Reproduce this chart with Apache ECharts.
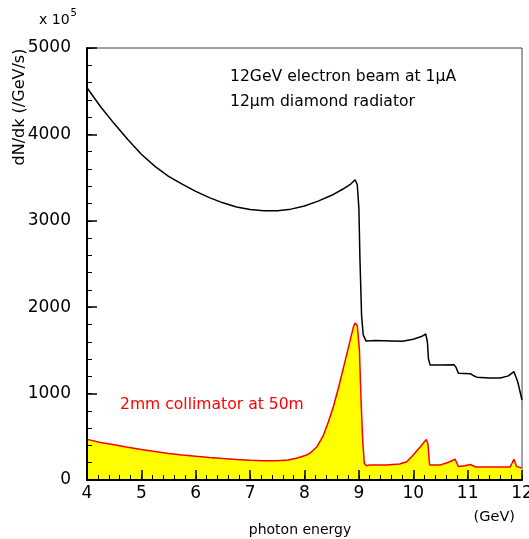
<!DOCTYPE html>
<html>
<head>
<meta charset="utf-8">
<script src="https://cdn.jsdelivr.net/npm/echarts@6/dist/echarts.min.js"></script>
<style>html,body{margin:0;padding:0;background:#fff;}#c{width:529px;height:539px;}</style>
</head>
<body>
<div id="c"></div>
<script>
// total flux (black)
var blackEnergy = [4.0,4.25,4.5,4.75,5.0,5.25,5.5,5.75,6.0,6.25,6.5,6.75,7.0,7.25,7.5,7.75,8.0,8.25,8.5,8.7,8.85,8.93,8.97,9.0,9.02,9.05,9.08,9.13,9.3,9.6,9.8,10.0,10.15,10.23,10.26,10.28,10.31,10.5,10.75,10.79,10.83,11.05,11.1,11.17,11.4,11.6,11.75,11.85,11.92,12.0];
var blackFlux   = [4540,4320,4125,3940,3770,3630,3515,3425,3340,3268,3208,3160,3130,3117,3117,3135,3172,3228,3295,3365,3425,3475,3420,3150,2550,1900,1680,1610,1615,1610,1605,1630,1660,1690,1600,1400,1330,1330,1335,1300,1235,1230,1210,1190,1180,1180,1205,1255,1140,926];
// collimated flux (red / yellow)
var redEnergy = [4.0,4.25,4.5,4.75,5.0,5.25,5.5,5.75,6.0,6.25,6.5,6.75,7.0,7.25,7.5,7.7,7.85,8.0,8.1,8.23,8.35,8.44,8.53,8.63,8.72,8.81,8.9,8.93,8.97,9.01,9.04,9.07,9.1,9.14,9.2,9.5,9.75,9.88,10.0,10.13,10.24,10.27,10.3,10.5,10.65,10.77,10.83,10.95,11.05,11.1,11.15,11.78,11.82,11.85,11.9,12.0];
var redFlux   = [470,435,408,380,354,330,307,290,274,260,248,238,230,224,224,232,252,280,309,385,520,674,847,1079,1310,1541,1772,1818,1792,1503,925,462,193,165,175,175,185,212,290,385,470,420,175,175,205,240,155,165,180,165,150,150,200,240,155,140];
var xTicks = [4,5,6,7,8,9,10,11,12];
var yTicks = [0,1000,2000,3000,4000,5000];

function pairs(xs, ys){ return xs.map(function(x,i){ return [x, ys[i]]; }); }

var FONT = 'DejaVu Sans';
var xMin = xTicks[0], xMax = xTicks[xTicks.length-1];
var yMin = yTicks[0], yMax = yTicks[yTicks.length-1];
var W = 529, H = 539, GL = 87, GR = 7, GT = 48, GB = 59;

// secondary axes used only to draw the minor ticks, placed on the opposite side
// and shifted onto the main axis line so that their outward ticks point into the plot
function minorAxis(min, max, interval, pos, offset){
  return {
    type: 'value', min: min, max: max, interval: interval, position: pos, offset: offset, z: 10,
    axisLine: { show: false, onZero: false }, axisLabel: { show: false }, splitLine: { show: false },
    axisTick: { show: true, inside: false, length: 5, lineStyle: { color: '#000', width: 1 } }
  };
}

var chart = echarts.init(document.getElementById('c'));
chart.setOption({
  animation: false,
  backgroundColor: '#fff',
  grid: { left: GL, right: GR, top: GT, bottom: GB, outerBoundsMode: 'none', containLabel: false, show: true, borderColor: '#444', borderWidth: 1 },
  xAxis: [{
    type: 'value', min: xMin, max: xMax, interval: 1, position: 'bottom', z: 10,
    axisLine: { show: true, onZero: false, lineStyle: { color: '#000', width: 2 } },
    axisTick: { show: true, inside: true, length: 10, lineStyle: { color: '#000', width: 1.5 } },
    splitLine: { show: false },
    axisLabel: { color: '#000', fontFamily: FONT, fontSize: 17, margin: 5, showMaxLabel: true, showMinLabel: true, hideOverlap: false }
  }, minorAxis(xMin, xMax, 0.2, 'top', -(H - GT - GB))],
  yAxis: [{
    type: 'value', min: yMin, max: yMax, interval: 1000, position: 'left', z: 10,
    axisLine: { show: true, onZero: false, lineStyle: { color: '#000', width: 2 } },
    axisTick: { show: true, inside: true, length: 10, lineStyle: { color: '#000', width: 1.5 } },
    splitLine: { show: false },
    axisLabel: { color: '#000', fontFamily: FONT, fontSize: 17, margin: 16, formatter: function(v){ return String(v); } }
  }, minorAxis(yMin, yMax, 200, 'right', -(W - GL - GR))],
  series: [
    {
      type: 'line', data: pairs(redEnergy, redFlux), showSymbol: false, smooth: false,
      lineStyle: { color: '#ff0000', width: 1.5 },
      areaStyle: { color: '#ffff00', opacity: 1 },
      z: 2
    },
    {
      type: 'line', data: pairs(blackEnergy, blackFlux), showSymbol: false, smooth: false,
      lineStyle: { color: '#000', width: 1.5 },
      z: 3
    }
  ],
  graphic: [
    { type: 'text', left: 39, top: 8, style: { text: '{a|x 10}{s|5}', rich: { a: { fontFamily: FONT, fontSize: 14, fill: '#000', padding: [8,0,0,0] }, s: { fontFamily: FONT, fontSize: 10, fill: '#000', padding: [0,0,6,1] } } } },
    { type: 'text', x: 20, y: 107, rotation: Math.PI/2, style: { text: 'dN/dk (/GeV/s)', fontFamily: FONT, fontSize: 16, fill: '#000', align: 'center', verticalAlign: 'middle' } },
    { type: 'text', x: 230, y: 77, style: { text: '12GeV electron beam at 1\u03bcA', fontFamily: FONT, fontSize: 15.6, fill: '#000', verticalAlign: 'middle' } },
    { type: 'text', x: 230, y: 102, style: { text: '12\u03bcm diamond radiator', fontFamily: FONT, fontSize: 15.6, fill: '#000', verticalAlign: 'middle' } },
    { type: 'text', x: 120, y: 405, style: { text: '2mm collimator at 50m', fontFamily: FONT, fontSize: 15.6, fill: '#ff0000', verticalAlign: 'middle' } },
    { type: 'text', x: 515, y: 517, style: { text: '(GeV)', fontFamily: FONT, fontSize: 14.5, fill: '#000', align: 'right', verticalAlign: 'middle' } },
    { type: 'text', x: 300, y: 530, style: { text: 'photon energy', fontFamily: FONT, fontSize: 14, fill: '#000', align: 'center', verticalAlign: 'middle' } }
  ]
});
</script>
</body>
</html>
